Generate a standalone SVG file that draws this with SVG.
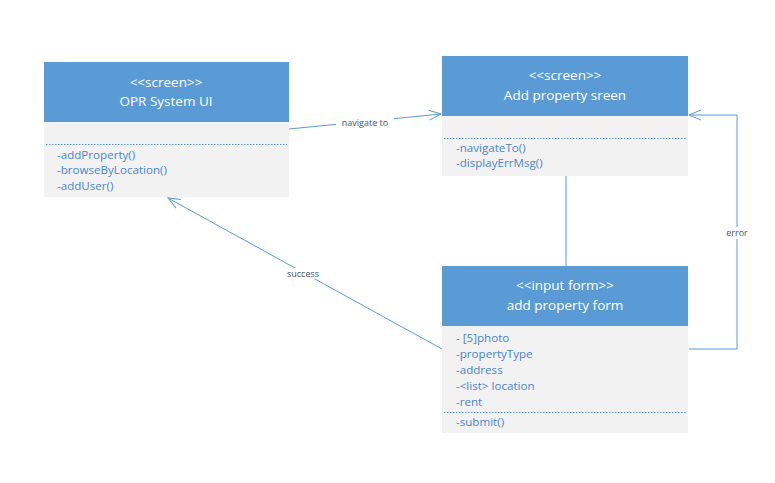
<svg xmlns="http://www.w3.org/2000/svg" width="775" height="483" viewBox="0 0 775 483">
<style>
.hdr{fill:#5b9bd5}
.body{fill:#f2f2f2}
.ht{font-family:"Open Sans","Liberation Sans",sans-serif;font-size:13.5px;fill:#ffffff;text-anchor:middle}
.bt{font-family:"Open Sans","Liberation Sans",sans-serif;font-size:11.6px;fill:#4a86c8}
.dot{stroke:#5b9bd5;stroke-width:1;stroke-dasharray:1.5 1.5;fill:none}
.ln{stroke:#5b9bd5;stroke-width:1;fill:none}
.lbl{font-family:"Open Sans","Liberation Sans",sans-serif;font-size:9px;fill:#44546a;text-anchor:middle}
</style>
<defs>
<marker id="open" markerWidth="14" markerHeight="12" refX="13" refY="6" orient="auto" markerUnits="userSpaceOnUse">
<path d="M1,1 L13,6 L1,11" fill="none" stroke="#5b9bd5" stroke-width="1"/>
</marker>
</defs>
<rect width="775" height="483" fill="#ffffff"/>
<g id="connectors">
<line class="ln" x1="289" y1="129" x2="441" y2="114" marker-end="url(#open)"/>
<rect x="336" y="117" width="58" height="11" fill="#ffffff"/>
<text class="lbl" x="365" y="126">navigate to</text>
<line class="ln" x1="442" y1="349" x2="168" y2="198" marker-end="url(#open)"/>
<rect x="284" y="268" width="38" height="11" fill="#ffffff"/>
<text class="lbl" x="303" y="277">success</text>
<polyline class="ln" points="689,349 737,349 737,115 689,115" marker-end="url(#open)"/>
<rect x="722" y="227" width="30" height="12" fill="#ffffff"/>
<text class="lbl" x="737" y="236">error</text>
<line class="ln" x1="566" y1="176" x2="566" y2="266"/>
</g>
<g id="opr-system-ui">
<rect class="hdr" x="44" y="62" width="245" height="60"/>
<rect class="body" x="44" y="122" width="245" height="75"/>
<text class="ht" x="166" y="87">&lt;&lt;screen&gt;&gt;</text>
<text class="ht" x="166" y="106">OPR System UI</text>
<line class="dot" x1="46" y1="144.5" x2="287" y2="144.5"/>
<text class="bt" x="57" y="159">-addProperty()</text>
<text class="bt" x="57" y="174">-browseByLocation()</text>
<text class="bt" x="57" y="190">-addUser()</text>
</g>
<g id="add-property-screen">
<rect class="hdr" x="442" y="56" width="246" height="60"/>
<rect class="body" x="442" y="116" width="246" height="60"/>
<text class="ht" x="565" y="80">&lt;&lt;screen&gt;&gt;</text>
<text class="ht" x="565" y="100">Add property sreen</text>
<line class="dot" x1="444" y1="138.5" x2="686" y2="138.5"/>
<text class="bt" x="456" y="152">-navigateTo()</text>
<text class="bt" x="456" y="167">-displayErrMsg()</text>
</g>
<g id="add-property-form">
<rect class="hdr" x="442" y="266" width="246" height="60"/>
<rect class="body" x="442" y="326" width="246" height="107"/>
<text class="ht" x="565" y="290">&lt;&lt;input form&gt;&gt;</text>
<text class="ht" x="565" y="310">add property form</text>
<text class="bt" x="456" y="342">- [5]photo</text>
<text class="bt" x="456" y="358">-propertyType</text>
<text class="bt" x="456" y="374">-address</text>
<text class="bt" x="456" y="390">-&lt;list&gt; location</text>
<text class="bt" x="456" y="406">-rent</text>
<line class="dot" x1="444" y1="412.5" x2="686" y2="412.5"/>
<text class="bt" x="456" y="426">-submit()</text>
</g>
</svg>
